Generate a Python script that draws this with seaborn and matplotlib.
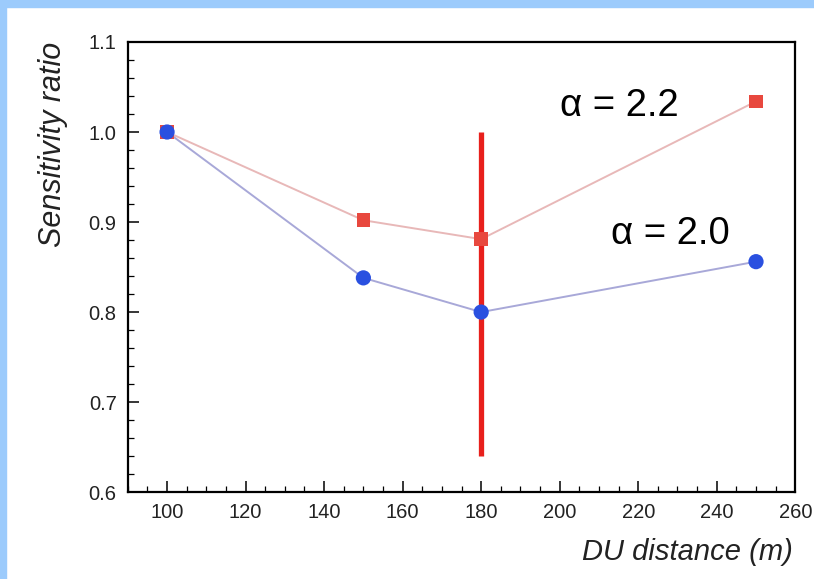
import numpy as np
import pandas as pd
import matplotlib
matplotlib.use("Agg")
import matplotlib.pyplot as plt
from matplotlib.patches import Rectangle
from matplotlib.ticker import MultipleLocator
import seaborn as sns

# DU spacing scan: sensitivity ratio relative to 100 m
distance = [100, 150, 180, 250]
ratio_a22 = [1.000, 0.902, 0.881, 1.034]
ratio_a20 = [1.000, 0.838, 0.800, 0.856]
series_labels = ["\u03b1 = 2.2", "\u03b1 = 2.0"]
chosen_distance = 180
chosen_range = [0.64, 1.0]

df = pd.DataFrame({
    "distance": distance * 2,
    "ratio": ratio_a22 + ratio_a20,
    "series": [series_labels[0]] * 4 + [series_labels[1]] * 4,
})

sns.set_theme(style="white")
plt.rcParams["font.family"] = ["Liberation Sans", "DejaVu Sans"]

fig = plt.figure(figsize=(8.14, 5.79), dpi=100)
ax = fig.add_axes([0.157, 0.150, 0.820, 0.7775])

# frame decoration
fig.patches.append(Rectangle((0, 0.988), 1, 0.012, transform=fig.transFigure,
                             color="#9ccbfc", zorder=0))
fig.patches.append(Rectangle((0, 0), 0.0075, 1, transform=fig.transFigure,
                             color="#9ccbfc", zorder=0))

line_cols = {series_labels[0]: "#e8b8b8", series_labels[1]: "#a8a8d8"}
mark_cols = {series_labels[0]: "#e8483e", series_labels[1]: "#2a50e0"}

sns.lineplot(data=df, x="distance", y="ratio", hue="series", palette=line_cols,
             linewidth=1.4, legend=False, ax=ax, zorder=2)

ax.vlines(chosen_distance, chosen_range[0], chosen_range[1], color="#e8201c",
          linewidth=3.8, zorder=3)

sub22 = df[df.series == series_labels[0]]
sub20 = df[df.series == series_labels[1]]
sns.scatterplot(data=sub22, x="distance", y="ratio", color=mark_cols[series_labels[0]],
                marker="s", s=95, edgecolor="none", legend=False, ax=ax, zorder=4)
sns.scatterplot(data=sub20, x="distance", y="ratio", color=mark_cols[series_labels[1]],
                marker="o", s=120, edgecolor="none", legend=False, ax=ax, zorder=5)

ax.text(200.2, 1.029, series_labels[0], fontsize=27.5, va="center", ha="left", color="black")
ax.text(213.0, 0.887, series_labels[1], fontsize=27.5, va="center", ha="left", color="black")

ax.set_xlim(90, 260)
ax.set_ylim(0.6, 1.1)
ax.xaxis.set_major_locator(MultipleLocator(20))
ax.xaxis.set_minor_locator(MultipleLocator(5))
ax.yaxis.set_major_locator(MultipleLocator(0.1))
ax.yaxis.set_minor_locator(MultipleLocator(0.02))
ax.yaxis.set_major_formatter(matplotlib.ticker.FormatStrFormatter("%.1f"))

ax.tick_params(which="both", direction="in", bottom=True, left=True, top=False,
               right=False, colors="black", labelsize=14.5, labelcolor="#222222")
ax.tick_params(which="major", length=8, width=1.1, pad=8)
ax.tick_params(which="minor", length=4, width=0.9)

for sp in ax.spines.values():
    sp.set_visible(True)
    sp.set_color("black")
    sp.set_linewidth(1.6)

ax.set_xlabel("DU distance (m)", fontsize=21, style="italic", color="#222222")
ax.set_ylabel("Sensitivity ratio", fontsize=22, style="italic", color="#222222")
ax.xaxis.set_label_coords(0.997, -0.102)
ax.xaxis.label.set_ha("right")
ax.yaxis.set_label_coords(-0.09, 1.0)
ax.yaxis.label.set_ha("right")

fig.savefig("out.png", dpi=100)
